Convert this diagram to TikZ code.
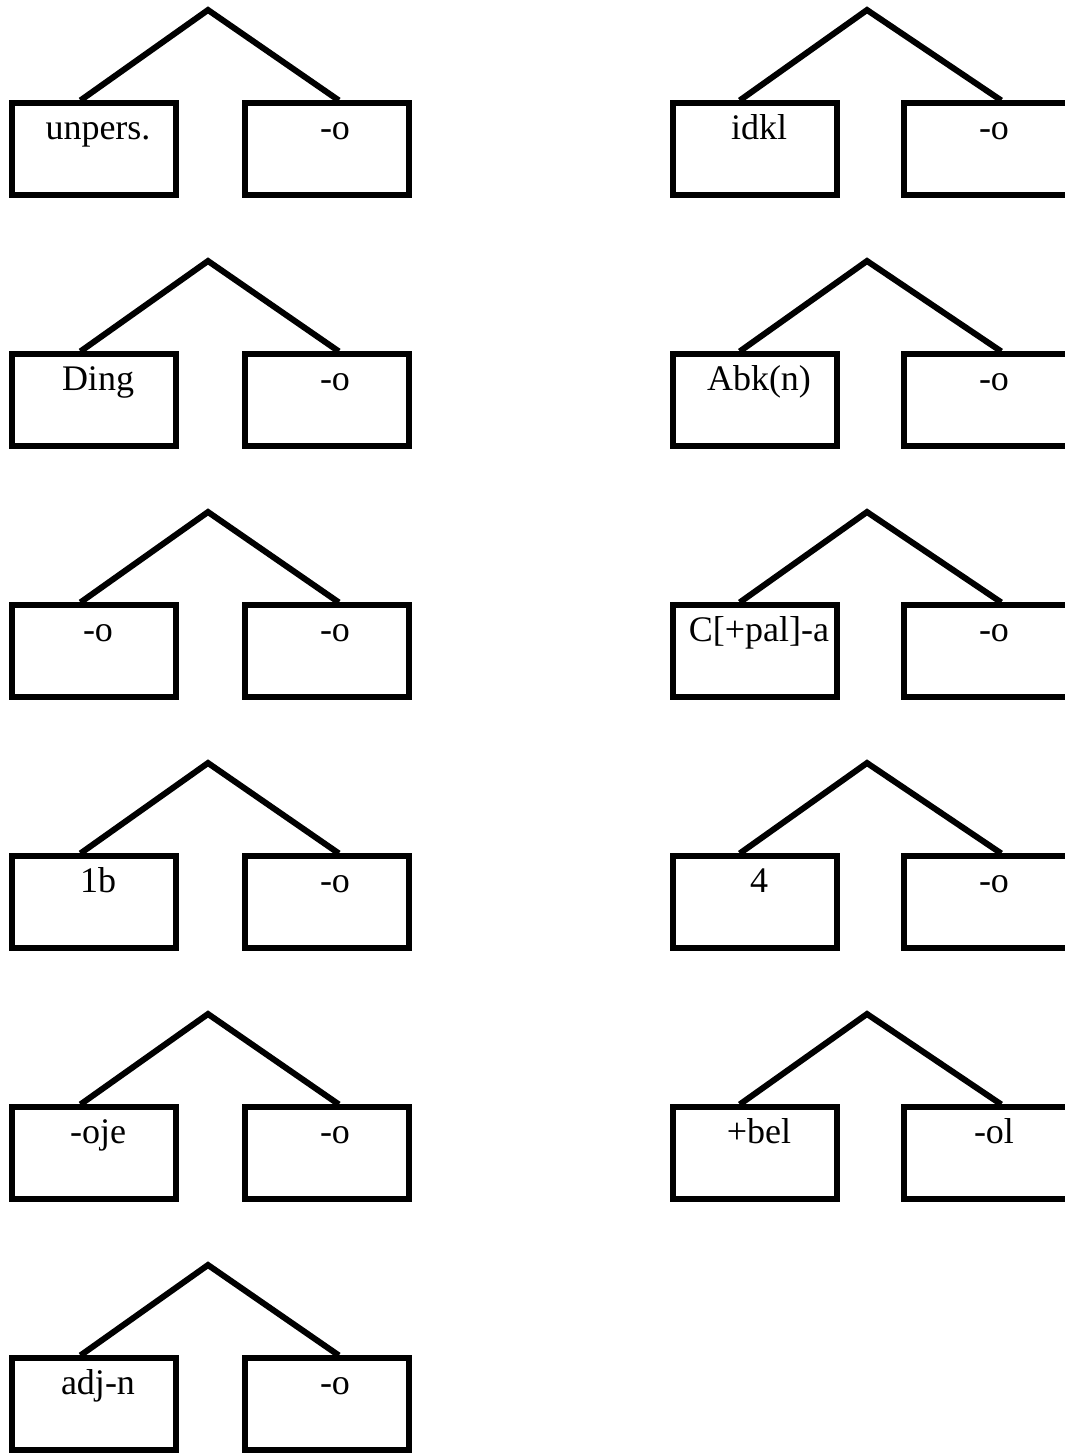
\documentclass[tikz,border=0pt]{standalone}
\usepackage{fontspec}
\setmainfont{Liberation Serif}
\usetikzlibrary{calc}

\begin{document}
\begin{tikzpicture}[
  x=0.5pt, y=-0.5pt,
  branch/.style={line width=3pt, line join=miter},
  cell/.style={draw, line width=2.6pt, minimum width=82pt, minimum height=46pt, inner sep=0pt},
  tag/.style={anchor=base, inner sep=0pt, font=\fontsize{18}{20}\selectfont}
]
  \clip (0,0) rectangle (1065,1453);

  % Left column of trees
  \foreach \i/\ltext/\rtext in {0/unpers./-o, 1/Ding/-o, 2/-o/-o, 3/1b/-o, 4/-oje/-o, 5/adj-n/-o}{
    \coordinate (a\i-top) at (208,10+251*\i);
    \node[cell] (a\i-l) at (94,149+251*\i) {};
    \node[cell] (a\i-r) at (327,149+251*\i) {};
    \node[tag] (a\i-lt) at ($(a\i-l.north)+(4,39)$) {\ltext};
    \node[tag] (a\i-rt) at ($(a\i-r.north)+(8,39)$) {\rtext};
    \draw[branch] ($(a\i-l.north west)!0.42!(a\i-l.north east)$) -- (a\i-top)
      -- ($(a\i-r.north west)!0.57!(a\i-r.north east)$);
  }

  % Right column of trees
  \foreach \i/\ltext/\rtext in {0/idkl/-o, 1/Abk(n)/-o, 2/{C[+pal]-a}/-o, 3/4/-o, 4/+bel/-ol}{
    \coordinate (b\i-top) at (867,10+251*\i);
    \node[cell] (b\i-l) at (755,149+251*\i) {};
    \node[cell] (b\i-r) at (986,149+251*\i) {};
    \node[tag] (b\i-lt) at ($(b\i-l.north)+(4,39)$) {\ltext};
    \node[tag] (b\i-rt) at ($(b\i-r.north)+(8,39)$) {\rtext};
    \draw[branch] ($(b\i-l.north west)!0.41!(b\i-l.north east)$) -- (b\i-top)
      -- ($(b\i-r.north west)!0.59!(b\i-r.north east)$);
  }
\end{tikzpicture}
\end{document}
